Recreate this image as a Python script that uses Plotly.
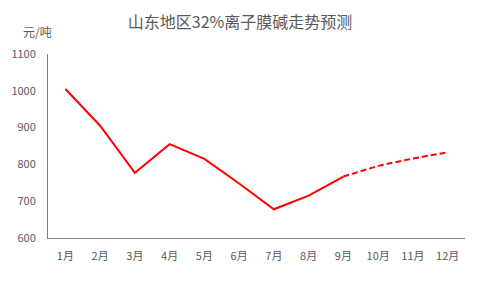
import plotly.graph_objects as go

months = ["1月","2月","3月","4月","5月","6月","7月","8月","9月","10月","11月","12月"]
actual = [1005, 905, 777, 855, 815, 748, 678, 715, 767]
forecast = [767, 796, 816, 833]

actual_x = months[:9]
forecast_x = months[8:]

font_family = "Noto Sans CJK SC, Microsoft YaHei, sans-serif"
gray = "#595959"

fig = go.Figure()
fig.add_trace(go.Scatter(x=actual_x, y=actual, mode="lines",
                         line=dict(color="#FF0000", width=2), showlegend=False))
fig.add_trace(go.Scatter(x=forecast_x, y=forecast, mode="lines",
                         line=dict(color="#FF0000", width=2, dash="6px,3px"), showlegend=False))

fig.update_layout(
    width=480, height=288,
    margin=dict(l=48, r=15, t=54, b=50),
    paper_bgcolor="white", plot_bgcolor="white",
    font=dict(family=font_family, color=gray, size=11),
    title=dict(text="山东地区32%离子膜碱走势预测", x=0.5, xanchor="center",
               y=1 - 22/288, yanchor="middle",
               font=dict(size=16, color=gray, family=font_family)),
    xaxis=dict(type="category", categoryorder="array", categoryarray=months,
               range=[-0.5, 11.5], showgrid=False, showline=True,
               linecolor="#808080", linewidth=1, ticks="", ticklabelstandoff=8,
               tickfont=dict(size=11, color=gray)),
    yaxis=dict(range=[600, 1100], dtick=100, showgrid=False, showline=True,
               linecolor="#808080", linewidth=1, ticks="", zeroline=False,
               ticklabelstandoff=9, tickfont=dict(size=11, color=gray)),
    annotations=[dict(text="元/吨", xref="paper", yref="paper",
                      x=-48/417 + 37/417, y=1 + 22/184, xanchor="center",
                      yanchor="middle", showarrow=False,
                      font=dict(size=12, color=gray, family=font_family))],
)

fig.write_html("out.html")
